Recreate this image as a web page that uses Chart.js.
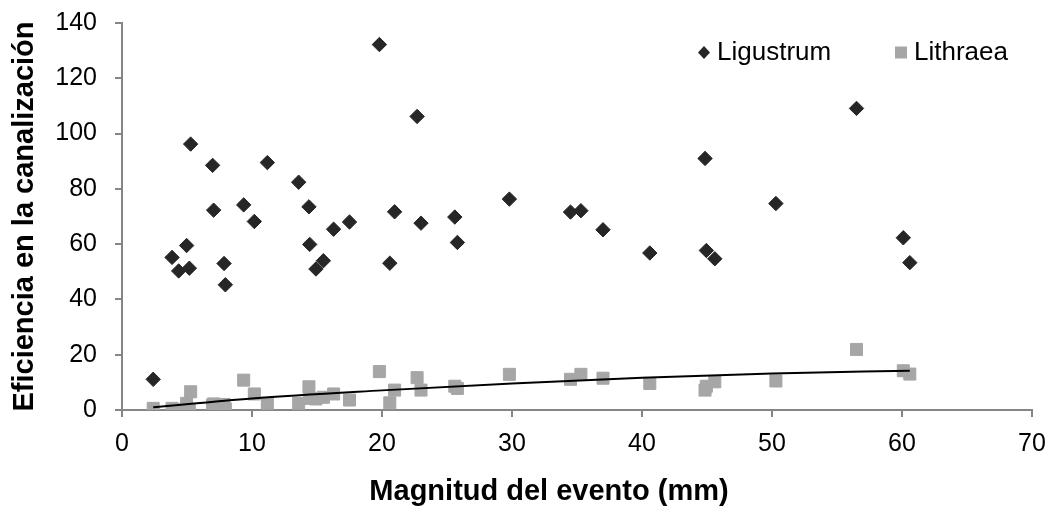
<!DOCTYPE html>
<html>
<head>
<meta charset="utf-8">
<script src="https://cdn.jsdelivr.net/npm/chart.js@4.4.1/dist/chart.umd.min.js"></script>
<style>
html,body{margin:0;padding:0;background:#fff}
#grafico{display:block}
</style>
</head>
<body>
<canvas id="grafico" width="1051" height="510"></canvas>
<script>
// magnitud del evento (mm), misma para las dos especies
const magnitud=[2.4,3.85,4.36,4.97,5.18,5.28,6.97,7.05,7.85,7.95,9.36,10.18,11.18,13.59,14.38,14.44,14.92,15.49,16.28,17.5,19.8,20.6,20.97,22.7,23.0,25.6,25.8,29.8,34.5,35.3,37.0,40.6,44.85,44.95,45.6,50.3,56.5,60.1,60.6]
const ligustrum=[11.1,55.2,50.3,59.5,51.3,96.2,88.5,72.3,53.0,45.3,74.2,68.2,89.5,82.4,73.5,59.9,51.0,54.0,65.4,68.0,132.2,53.1,71.7,106.2,67.6,69.8,60.6,76.3,71.6,72.1,65.2,56.8,91.0,57.7,54.7,74.7,109.1,62.3,53.3]
const lithraea=[0.6,0.6,0.2,2.4,0.2,6.6,1.8,2.2,2.0,0.4,10.8,5.8,2.4,2.4,8.4,4.2,4.0,4.6,5.8,3.6,13.9,2.6,7.2,11.7,7.2,8.6,7.8,12.9,11.1,12.9,11.5,9.6,7.2,8.6,10.2,10.5,21.9,14.2,13.0]
// linea de tendencia de Lithraea
const tendenciaX=[2.4,10,20,30,40,50,60.6]
const tendenciaY=[1.0,4.2,7.1,9.6,11.7,13.2,14.2]
const especies=['Ligustrum','Lithraea']
const tituloX='Magnitud del evento (mm)'
const tituloY='Eficiencia en la canalización'

const fuente='"Liberation Sans", Arial, sans-serif'
const colorLig='#262626'
const colorLit='#a6a6a6'
const colorEje='#868686'

const puntos=(xs,ys)=>xs.map((x,i)=>({x:x,y:ys[i]}))

// leyenda dentro del area del grafico y titulo del eje x (algo corrido a la izquierda)
const leyenda={
id:'leyenda',
afterDraw(chart){
const ctx=chart.ctx
ctx.save()
ctx.font='26px '+fuente
ctx.textBaseline='middle'
ctx.fillStyle=colorLig
ctx.beginPath()
ctx.moveTo(704,46);ctx.lineTo(710,52.5);ctx.lineTo(704,59);ctx.lineTo(698,52.5);ctx.closePath()
ctx.fill()
ctx.fillStyle='#000'
ctx.fillText(especies[0],717,53)
ctx.fillStyle=colorLit
ctx.fillRect(895,46.5,12,12)
ctx.fillStyle='#000'
ctx.fillText(especies[1],914,53)
ctx.font='bold 29px '+fuente
ctx.textAlign='center'
ctx.fillText(tituloX,549,492)
ctx.restore()
}
}

const ejeComun={
type:'linear',
grid:{drawOnChartArea:false,drawTicks:true,tickLength:7,color:colorEje,lineWidth:2},
border:{display:true,color:colorEje,width:2},
}

const grafico=new Chart(document.getElementById('grafico'),{
type:'scatter',
data:{
datasets:[
{
type:'line',
label:'tendencia',
data:puntos(tendenciaX,tendenciaY),
borderColor:'#000',
borderWidth:2,
pointRadius:0,
cubicInterpolationMode:'monotone',
fill:false,
order:0
},
{
label:especies[0],
data:puntos(magnitud,ligustrum),
pointStyle:'rectRot',
pointRadius:7.2,
backgroundColor:colorLig,
borderColor:colorLig,
borderWidth:1,
order:1
},
{
label:especies[1],
data:puntos(magnitud,lithraea),
pointStyle:'rect',
pointRadius:8.5,
backgroundColor:colorLit,
borderColor:colorLit,
borderWidth:1,
order:2
}
]
},
options:{
responsive:false,
animation:false,
events:[],
layout:{padding:{top:23,right:19,left:0,bottom:0}},
plugins:{legend:{display:false},tooltip:{enabled:false}},
scales:{
x:{
...ejeComun,
min:0,max:70,
ticks:{stepSize:10,color:'#000',font:{family:fuente,size:25},padding:12,maxRotation:0},
afterFit:(s)=>{s.height=100;s.paddingLeft=0;s.paddingRight=0}
},
y:{
...ejeComun,
min:0,max:140,
ticks:{stepSize:20,color:'#000',font:{family:fuente,size:25},padding:18},
title:{display:true,text:tituloY,color:'#000',font:{family:fuente,size:29,weight:'bold'},padding:{top:8,bottom:0}},
afterFit:(s)=>{s.width=122;s.paddingTop=0;s.paddingBottom=0}
}
}
},
plugins:[leyenda]
})
</script>
</body>
</html>
